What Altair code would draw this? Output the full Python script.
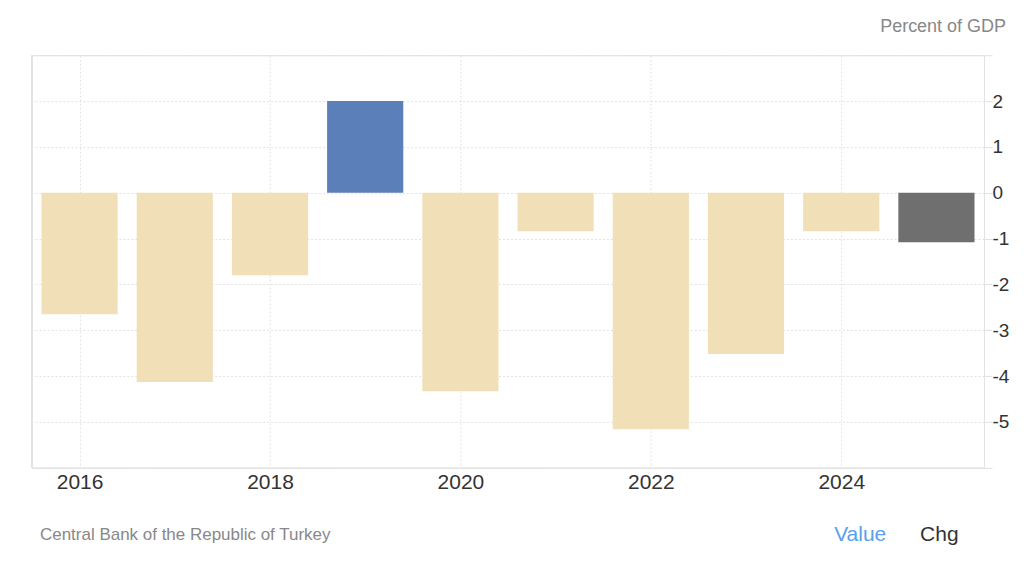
import altair as alt
import pandas as pd

years = [2016, 2017, 2018, 2019, 2020, 2021, 2022, 2023, 2024, 2025]
values = [-2.65, -4.13, -1.80, 2.0, -4.33, -0.84, -5.16, -3.52, -0.84, -1.08]
x_ticks = [2016, 2018, 2020, 2022, 2024]
y_grid = [-6, -5, -4, -3, -2, -1, 0, 1, 2, 3]

kinds = ["latest" if i == len(years) - 1 else ("positive" if v > 0 else "negative")
         for i, v in enumerate(values)]
df = pd.DataFrame({"year": years, "value": values, "kind": kinds})

FONT = "Liberation Sans"
W, H = 953, 413

bars = alt.Chart(df).transform_calculate(
    x0="datum.year - 0.4", x1="datum.year + 0.4", zero="0"
).mark_bar().encode(
    x=alt.X("x0:Q",
            scale=alt.Scale(domain=[2015.5, 2025.5], nice=False, zero=False),
            axis=alt.Axis(values=x_ticks, format="d", title=None, ticks=False,
                          labelFontSize=21, labelColor="#333333", labelFont=FONT,
                          labelPadding=4, domainColor="#e3e3e3", domainWidth=1.5,
                          grid=True, gridDash=[2, 2], gridColor="#e2e2e2")),
    x2="x1:Q",
    y=alt.Y("value:Q",
            scale=alt.Scale(domain=[-6, 3], nice=False, zero=False),
            axis=alt.Axis(orient="right", values=y_grid, title=None,
                          labelExpr="(datum.value == 3 || datum.value == -6) ? '' : '' + datum.value",
                          labelFontSize=19, labelColor="#333333", labelFont=FONT,
                          labelPadding=0, tickColor="#e0e0e0", tickSize=8,
                          domainColor="#e3e3e3", grid=True, gridDash=[2, 2],
                          gridColor="#e2e2e2")),
    y2="zero:Q",
    color=alt.Color("kind:N",
                    scale=alt.Scale(domain=["negative", "positive", "latest"],
                                    range=["#F1DFB7", "#5B7FB8", "#6F6F6F"]),
                    legend=None),
)

left_edge = alt.Chart(df).mark_rule(color="#e3e3e3", strokeWidth=1.5).encode(
    x=alt.value(0), y=alt.value(0), y2=alt.value(H))


def txt(label, x, y, color, size, align):
    return alt.Chart(pd.DataFrame({"t": [label]})).mark_text(
        font=FONT, fontSize=size, color=color, align=align, baseline="middle"
    ).encode(text="t:N", x=alt.value(x), y=alt.value(y))


t1 = txt("Percent of GDP", 975, -28, "#888888", 18, "right")
t2 = txt("Central Bank of the Republic of Turkey", 8, 480, "#888888", 17, "left")
t3 = txt("Value", 803, 480, "#5A9FEE", 21, "left")
t4 = txt("Chg", 889, 480, "#333333", 21, "left")

chart = alt.layer(bars, left_edge, t1, t2, t3, t4).properties(
    width=W, height=H,
    autosize=alt.AutoSizeParams(type="none"),
    padding={"left": 24, "top": 47, "right": 32, "bottom": 80},
).configure_view(stroke=None).configure(background="white")

chart.save("out.html", embed_options={"renderer": "svg", "actions": False})
